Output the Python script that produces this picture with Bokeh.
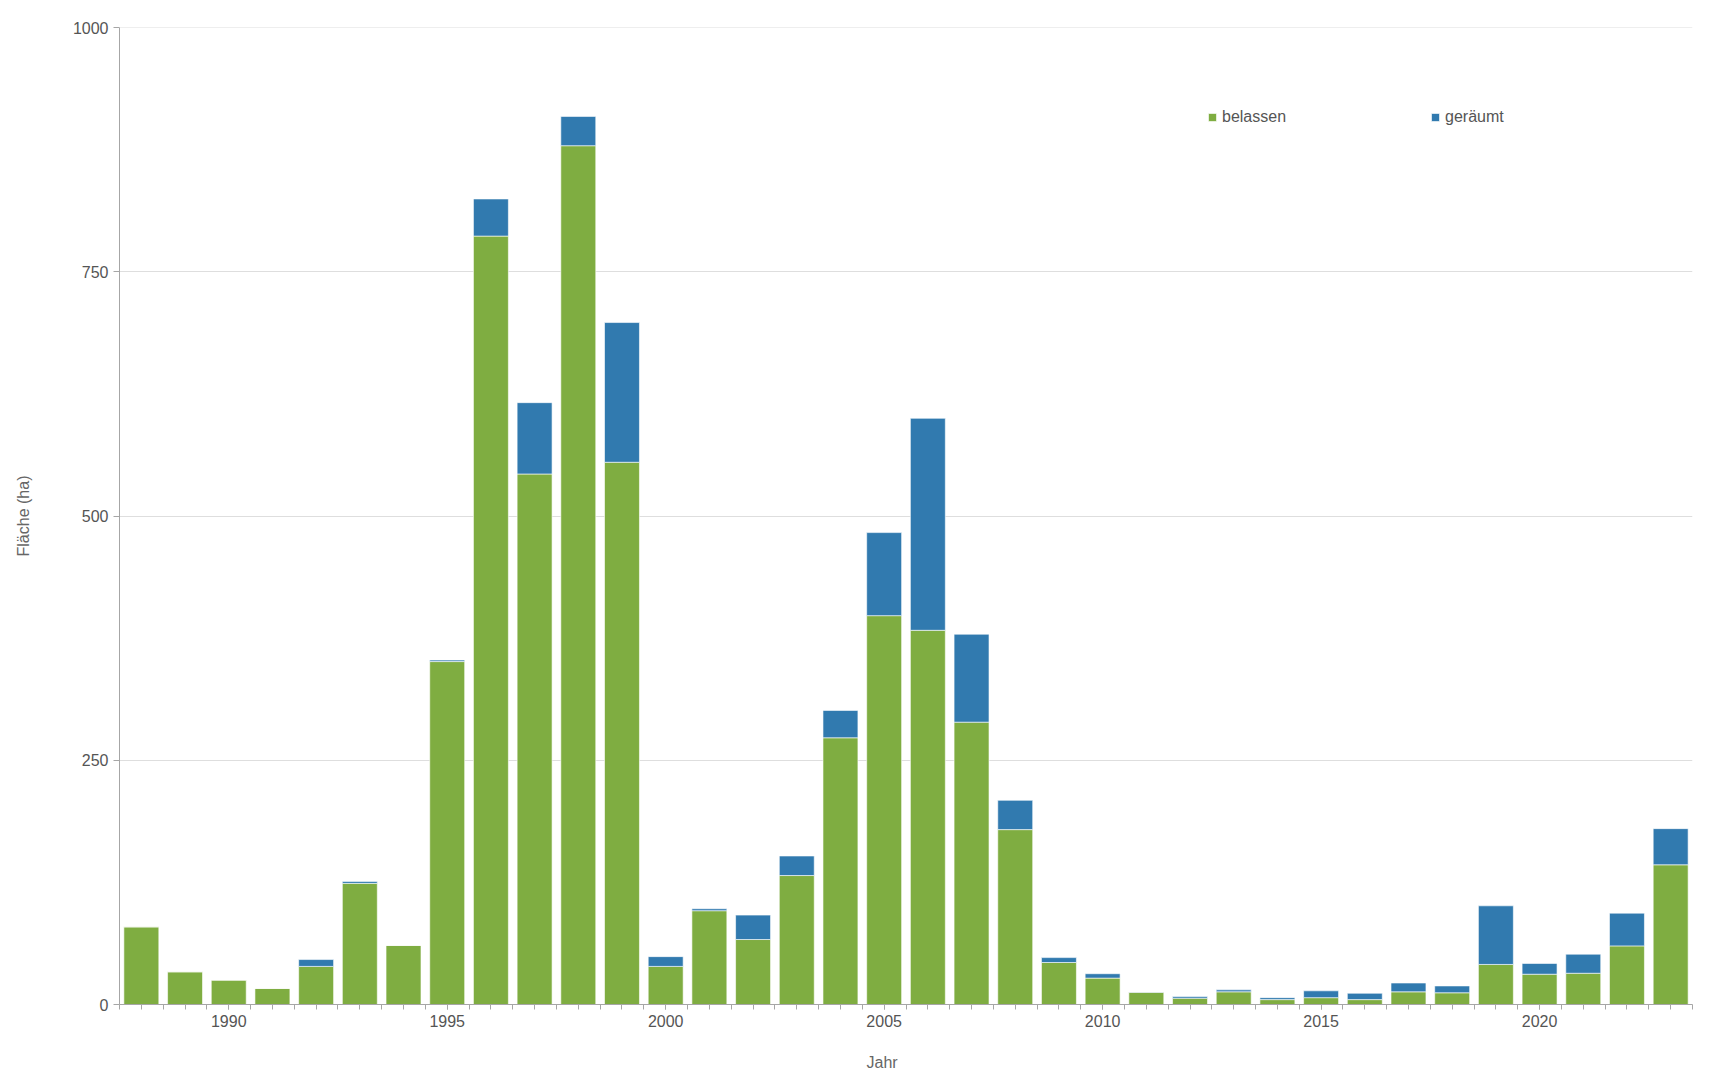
from bokeh.plotting import figure
from bokeh.models import Range1d, FixedTicker, Legend, LegendItem, ColumnDataSource, Span, Title
from bokeh.embed import file_html
from bokeh.resources import INLINE

years = list(range(1988, 2024))
belassen = [79.5, 33.5, 25, 16.5, 39, 124, 60.5, 351, 786.5, 543, 879, 555,
            39, 96, 66.5, 132, 273, 398, 383, 289, 179, 43, 27, 12.5,
            6.5, 13, 5, 7, 5, 13, 12, 41, 31, 32, 60, 143]
geraeumt = [0, 0, 0, 0, 7, 2, 0, 1.5, 38, 73, 30, 143,
            10, 2, 25, 20, 28, 85, 217, 90, 30, 5, 4.5, 0.3,
            1.7, 2, 2, 7, 6.5, 9, 7, 60, 11, 19.5, 33.5, 37]
y_ticks = [0, 250, 500, 750, 1000]
x_label_ticks = [1990, 1995, 2000, 2005, 2010, 2015, 2020]
series_names = ["belassen", "geräumt"]
colors = ["#7fad41", "#317aaf"]

source = ColumnDataSource(data=dict(year=years, belassen=belassen, geraeumt=geraeumt))

FONT = "Liberation Sans"
FS = "16px"

p = figure(width=1705, height=1080, output_backend="svg", toolbar_location=None,
           x_range=Range1d(1987.5, 2023.5), y_range=Range1d(0, 1000),
           min_border_left=119, min_border_right=13, min_border_top=27, min_border_bottom=76)
p.frame_width = 1573
p.frame_height = 977
p.outline_line_color = None
p.background_fill_color = "white"
p.border_fill_color = "white"

renderers = p.vbar_stack(["belassen", "geraeumt"], x="year", width=0.8, source=source,
                         fill_color=colors, line_color="white", line_alpha=0.6, line_width=1)

# axes
p.xgrid.visible = False
p.ygrid.grid_line_color = "#dedede"
p.ygrid.grid_line_width = 1
p.add_layout(Span(location=y_ticks[-1], dimension="width", line_color="#dedede", line_width=1))
p.yaxis.ticker = FixedTicker(ticks=y_ticks)
minor = [1987.5 + 0.5 * i for i in range(73)]
p.xaxis.ticker = FixedTicker(ticks=x_label_ticks, minor_ticks=minor)

for ax in (p.xaxis[0], p.yaxis[0]):
    ax.axis_line_color = "#a6a6a6"
    ax.major_tick_line_color = "#a6a6a6"
    ax.minor_tick_line_color = "#a6a6a6"
    ax.major_tick_in = 0
    ax.minor_tick_in = 0
    ax.major_label_text_font = FONT
    ax.major_label_text_font_size = FS
    ax.major_label_text_color = "#555555"
    ax.axis_label_text_font = FONT
    ax.axis_label_text_font_size = FS
    ax.axis_label_text_font_style = "normal"
    ax.axis_label_text_color = "#666666"

p.xaxis.major_tick_out = 5
p.xaxis.minor_tick_out = 5
p.xaxis.major_label_standoff = 5

p.yaxis.major_tick_out = 6
p.yaxis.minor_tick_out = 0
p.yaxis.minor_tick_line_color = None
p.yaxis.major_label_standoff = 5
p.yaxis.axis_label = "Fläche (ha)"
p.yaxis.axis_label_standoff = 38

# x-axis title, placed left of centre like the reference
p.add_layout(Title(text="Jahr", align="left", offset=747, standoff=44,
                   text_font=FONT, text_font_size=FS, text_font_style="normal",
                   text_color="#666666"), "below")

# legends (two single-item legends, placed like the reference)
def make_legend(label, rend, loc):
    lg = Legend(items=[LegendItem(label=label, renderers=[rend])], location=loc,
                orientation="horizontal", padding=0, margin=0, spacing=0,
                glyph_width=10, glyph_height=10, label_height=10, label_standoff=5,
                label_text_font=FONT, label_text_font_size=FS,
                label_text_color="#555555", label_text_baseline="middle",
                border_line_color=None, background_fill_alpha=0)
    p.add_layout(lg, "center")
    return lg

make_legend(series_names[0], renderers[0], (1088, 878))
make_legend(series_names[1], renderers[1], (1311, 878))

open("out.html", "w").write(file_html(p, INLINE))
